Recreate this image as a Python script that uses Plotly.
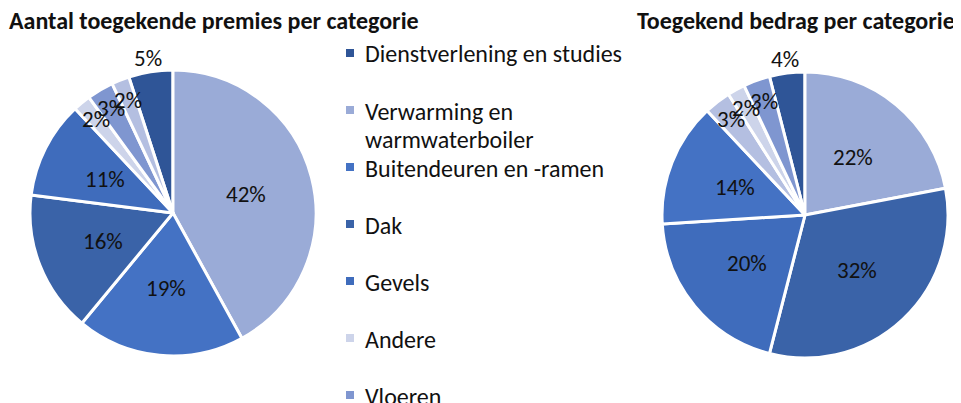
import math
import plotly.graph_objects as go

# Data ------------------------------------------------------------------------
legend_labels = ['Dienstverlening en studies', 'Verwarming en<br>warmwaterboiler',
                 'Buitendeuren en -ramen', 'Dak', 'Gevels', 'Andere', 'Vloeren',
                 'Elektriciteit en sanitair']
categories = ['Dienstverlening en studies', 'Verwarming en warmwaterboiler',
              'Buitendeuren en -ramen', 'Dak', 'Gevels', 'Andere', 'Vloeren',
              'Elektriciteit en sanitair']
colors = ['#2F5597', '#9AABD7', '#4472C4', '#3A63A8', '#3F6CBC',
          '#CDD4EA', '#7F96D0', '#B4BFE1']

# left pie: aantal premies (%), in slice order
left_cats = ['Dienstverlening en studies', 'Verwarming en warmwaterboiler',
             'Buitendeuren en -ramen', 'Dak', 'Gevels', 'Andere', 'Vloeren',
             'Elektriciteit en sanitair']
left_vals = [5, 42, 19, 16, 11, 2, 3, 2]

# right pie: bedrag (%), in slice order
right_cats = ['Dienstverlening en studies', 'Verwarming en warmwaterboiler', 'Dak',
              'Gevels', 'Buitendeuren en -ramen', 'Elektriciteit en sanitair',
              'Andere', 'Vloeren']
right_vals = [4, 22, 32, 20, 14, 3, 2, 3]

titles = ['Aantal toegekende premies per categorie', 'Toegekend bedrag per categorie']

W, H = 961, 403
OFF = 8  # page body margin
FONT = 'Carlito, Calibri, Open Sans, sans-serif'
cmap = dict(zip(categories, colors))


def px_x(p):
    return (p - OFF) / W


def px_y(p):
    return 1 - (p - OFF) / H


def label_radius(v):
    # Excel-like "best fit": big slices inside, medium outside, small near the rim
    if v >= 10:
        return 0.53
    if v >= 4:
        return 1.1
    return 0.85


fig = go.Figure()
for cats, vals, dom in [
    (left_cats, left_vals, ([30, 316], [70, 356])),
    (right_cats, right_vals, ([662, 948], [72, 358])),
]:
    rot = -vals[0] / sum(vals) * 360
    fig.add_trace(go.Pie(
        labels=cats, values=vals, sort=False, direction='clockwise', rotation=rot,
        marker=dict(colors=[cmap[c] for c in cats], line=dict(color='white', width=3)),
        textinfo='none',
        domain=dict(x=[px_x(dom[0][0]), px_x(dom[0][1])],
                    y=[px_y(dom[1][1]), px_y(dom[1][0])]),
        showlegend=False,
    ))
    # data labels at the slice mid-angles
    cx, cy = sum(dom[0]) / 2, sum(dom[1]) / 2
    R = (dom[0][1] - dom[0][0]) / 2
    start = rot
    for v in vals:
        mid = math.radians(start + v / sum(vals) * 180)
        r = R * label_radius(v)
        fig.add_annotation(text='%d%%' % v, x=px_x(cx + r * math.sin(mid)),
                           y=px_y(cy - r * math.cos(mid)), xref='paper', yref='paper',
                           xanchor='center', yanchor='middle', showarrow=False,
                           font=dict(size=23, color='#111111', family=FONT))
        start += v / sum(vals) * 360

# Titles ----------------------------------------------------------------------
for t, xp, anc in zip(titles, [214, 957], ['center', 'right']):
    fig.add_annotation(text='<b>%s</b>' % t, x=px_x(xp), y=px_y(21), xref='paper', yref='paper',
                       xanchor=anc, yanchor='middle', showarrow=False,
                       font=dict(size=24, color='#111111', family=FONT))

# Legend ----------------------------------------------------------------------
for i, (lab, col) in enumerate(zip(legend_labels, colors)):
    cy = 53 + i * 57
    fig.add_shape(type='rect', xref='paper', yref='paper',
                  x0=px_x(346), x1=px_x(354), y0=px_y(cy - 4), y1=px_y(cy + 4),
                  fillcolor=col, line_width=0)
    for j, line in enumerate(lab.split('<br>')):
        fig.add_annotation(text=line, x=px_x(363), y=px_y(cy + 1 + j * 28),
                           xref='paper', yref='paper',
                           xanchor='left', yanchor='middle', align='left', showarrow=False,
                           font=dict(size=24, color='#111111', family=FONT))

fig.update_layout(
    width=W, height=H, margin=dict(l=0, r=0, t=0, b=0),
    paper_bgcolor='white', plot_bgcolor='white',
)
fig.write_html('out.html')
